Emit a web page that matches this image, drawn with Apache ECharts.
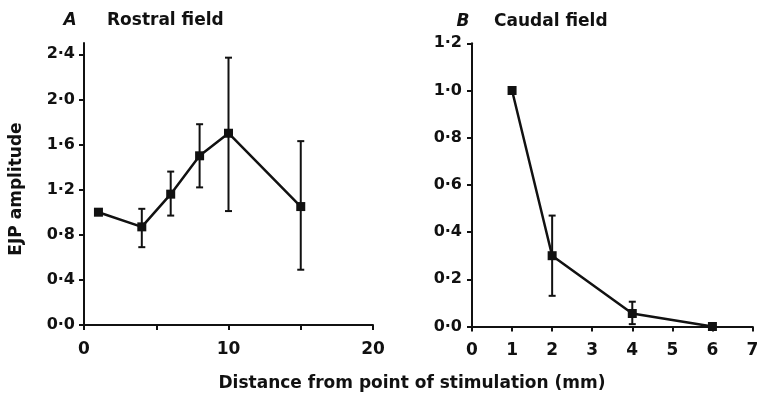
<!DOCTYPE html>
<html>
<head>
<meta charset="utf-8">
<script src="https://cdn.jsdelivr.net/npm/echarts@6/dist/echarts.min.js"></script>
<style>
html,body{margin:0;padding:0;background:#fff;}
#chart{width:759px;height:396px;}
</style>
</head>
<body>
<div id="chart"></div>
<script>
// Panel A: Rostral field
const rostralDistance = [1, 4, 6, 8, 10, 15];
const rostralAmp      = [1.00, 0.87, 1.16, 1.50, 1.70, 1.05];
const rostralUpper    = [1.00, 1.03, 1.36, 1.78, 2.37, 1.63];
const rostralLower    = [1.00, 0.69, 0.97, 1.22, 1.01, 0.49];

// Panel B: Caudal field
const caudalDistance = [1, 2, 4, 6];
const caudalAmp      = [1.00, 0.30, 0.055, 0.00];
const caudalUpper    = [1.00, 0.47, 0.105, 0.00];
const caudalLower    = [1.00, 0.13, 0.01, 0.00];

// Tick values and labels
const rostralYTicks  = [0, 0.4, 0.8, 1.2, 1.6, 2.0, 2.4];
const rostralYLabels = ['0·0', '0·4', '0·8', '1·2', '1·6', '2·0', '2·4'];
const rostralXTicks  = [0, 5, 10, 15, 20];
const rostralXLabels = [0, 10, 20];
const caudalYTicks   = [0, 0.2, 0.4, 0.6, 0.8, 1.0, 1.2];
const caudalYLabels  = ['0·0', '0·2', '0·4', '0·6', '0·8', '1·0', '1·2'];
const caudalXTicks   = [0, 1, 2, 3, 4, 5, 6, 7];

const titleA = 'A', nameA = 'Rostral field';
const titleB = 'B', nameB = 'Caudal field';
const yName = 'EJP amplitude';
const xName = 'Distance from point of stimulation (mm)';

const FONT = 'DejaVu Sans';
const INK = '#111';

function labelFrom(ticks, labels) {
  return function (v) {
    for (let i = 0; i < ticks.length; i++) {
      if (Math.abs(ticks[i] - v) < 1e-6) return labels[i];
    }
    return '';
  };
}

function errRender(params, api) {
  const x = api.value(0), lo = api.value(1), hi = api.value(2);
  if (Math.abs(hi - lo) < 1e-9) return null;
  const top = api.coord([x, hi]);
  const bot = api.coord([x, lo]);
  const w = 3.5;
  const st = { stroke: INK, lineWidth: 2 };
  return {
    type: 'group',
    children: [
      { type: 'line', shape: { x1: top[0], y1: top[1], x2: bot[0], y2: bot[1] }, style: st },
      { type: 'line', shape: { x1: top[0] - w, y1: top[1], x2: top[0] + w, y2: top[1] }, style: st },
      { type: 'line', shape: { x1: bot[0] - w, y1: bot[1], x2: bot[0] + w, y2: bot[1] }, style: st }
    ]
  };
}

const axisLineStyle = { show: true, lineStyle: { color: INK, width: 2 } };
const tickStyle = { show: true, inside: false, length: 5, lineStyle: { color: INK, width: 2 } };
const labelStyle = { color: INK, fontFamily: FONT, fontWeight: 'bold', fontSize: 16 };

const chart = echarts.init(document.getElementById('chart'), null, { renderer: 'canvas' });

chart.setOption({
  animation: false,
  backgroundColor: '#fff',
  grid: [
    { left: 84, right: 386, top: 43, bottom: 71, containLabel: false, outerBoundsMode: 'none' },
    { left: 472, right: 6.5, top: 43.3, bottom: 69.5, containLabel: false, outerBoundsMode: 'none' }
  ],
  xAxis: [
    {
      gridIndex: 0, type: 'value', min: 0, max: 20, interval: 5,
      axisLine: axisLineStyle,
      axisTick: Object.assign({}, tickStyle, { customValues: rostralXTicks }),
      axisLabel: Object.assign({}, labelStyle, { fontSize: 17, margin: 16, customValues: rostralXLabels, formatter: v => String(v) }),
      splitLine: { show: false }
    },
    {
      gridIndex: 1, type: 'value', min: 0, max: 7, interval: 1,
      axisLine: axisLineStyle,
      axisTick: Object.assign({}, tickStyle, { customValues: caudalXTicks }),
      axisLabel: Object.assign({}, labelStyle, { fontSize: 17, margin: 16, customValues: caudalXTicks, formatter: v => String(v) }),
      splitLine: { show: false }
    }
  ],
  yAxis: [
    {
      gridIndex: 0, type: 'value', min: 0, max: 2.5,
      axisLine: axisLineStyle,
      axisTick: Object.assign({}, tickStyle, { customValues: rostralYTicks }),
      axisLabel: Object.assign({}, labelStyle, { margin: 9, customValues: rostralYTicks, formatter: labelFrom(rostralYTicks, rostralYLabels) }),
      splitLine: { show: false }
    },
    {
      gridIndex: 1, type: 'value', min: 0, max: 1.2,
      axisLine: axisLineStyle,
      axisTick: Object.assign({}, tickStyle, { customValues: caudalYTicks }),
      axisLabel: Object.assign({}, labelStyle, { margin: 10, customValues: caudalYTicks, formatter: labelFrom(caudalYTicks, caudalYLabels) }),
      splitLine: { show: false }
    }
  ],
  series: [
    {
      type: 'custom', xAxisIndex: 0, yAxisIndex: 0,
      renderItem: errRender,
      encode: { x: 0, y: [1, 2] },
      data: rostralDistance.map((d, i) => [d, rostralLower[i], rostralUpper[i]]),
      z: 2
    },
    {
      type: 'line', xAxisIndex: 0, yAxisIndex: 0,
      data: rostralDistance.map((d, i) => [d, rostralAmp[i]]),
      symbol: 'rect', symbolSize: 9,
      lineStyle: { color: INK, width: 2.5 },
      itemStyle: { color: INK },
      z: 3
    },
    {
      type: 'custom', xAxisIndex: 1, yAxisIndex: 1,
      renderItem: errRender,
      encode: { x: 0, y: [1, 2] },
      data: caudalDistance.map((d, i) => [d, caudalLower[i], caudalUpper[i]]),
      z: 2
    },
    {
      type: 'line', xAxisIndex: 1, yAxisIndex: 1,
      data: caudalDistance.map((d, i) => [d, caudalAmp[i]]),
      symbol: 'rect', symbolSize: 9,
      lineStyle: { color: INK, width: 2.5 },
      itemStyle: { color: INK },
      z: 3
    }
  ],
  graphic: [
    { type: 'text', x: 70, y: 21, style: { text: titleA, fill: INK, font: 'italic bold 17px "DejaVu Sans"', align: 'center', verticalAlign: 'middle' } },
    { type: 'text', x: 107, y: 21, style: { text: nameA, fill: INK, font: 'bold 17px "DejaVu Sans"', align: 'left', verticalAlign: 'middle' } },
    { type: 'text', x: 463, y: 22, style: { text: titleB, fill: INK, font: 'italic bold 17px "DejaVu Sans"', align: 'center', verticalAlign: 'middle' } },
    { type: 'text', x: 494, y: 22, style: { text: nameB, fill: INK, font: 'bold 17px "DejaVu Sans"', align: 'left', verticalAlign: 'middle' } },
    { type: 'text', x: 17, y: 189, rotation: Math.PI / 2, style: { text: yName, fill: INK, font: 'bold 17px "DejaVu Sans"', align: 'center', verticalAlign: 'middle' } },
    { type: 'text', x: 412, y: 384, style: { text: xName, fill: INK, font: 'bold 17px "DejaVu Sans"', align: 'center', verticalAlign: 'middle' } }
  ]
});
</script>
</body>
</html>
